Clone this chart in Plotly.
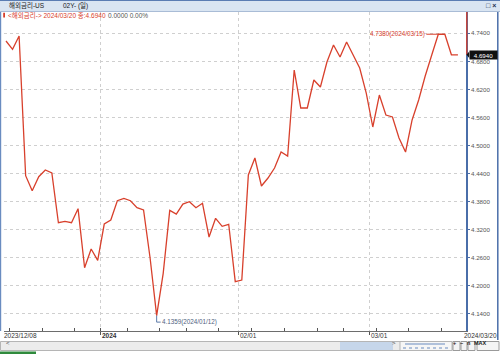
import plotly.graph_objects as go
from datetime import date

# ---------------- data ----------------
dates = [
    "2023-12-08", "2023-12-11", "2023-12-12", "2023-12-13", "2023-12-14", "2023-12-15",
    "2023-12-18", "2023-12-19", "2023-12-20", "2023-12-21", "2023-12-22",
    "2023-12-26", "2023-12-27", "2023-12-28", "2023-12-29",
    "2024-01-02", "2024-01-03", "2024-01-04", "2024-01-05",
    "2024-01-08", "2024-01-09", "2024-01-10", "2024-01-11", "2024-01-12",
    "2024-01-16", "2024-01-17", "2024-01-18", "2024-01-19",
    "2024-01-22", "2024-01-23", "2024-01-24", "2024-01-25", "2024-01-26",
    "2024-01-29", "2024-01-30", "2024-01-31",
    "2024-02-01", "2024-02-02",
    "2024-02-05", "2024-02-06", "2024-02-07", "2024-02-08", "2024-02-09",
    "2024-02-12", "2024-02-13", "2024-02-14", "2024-02-15", "2024-02-16",
    "2024-02-20", "2024-02-21", "2024-02-22", "2024-02-23",
    "2024-02-26", "2024-02-27", "2024-02-28", "2024-02-29",
    "2024-03-01",
    "2024-03-04", "2024-03-05", "2024-03-06", "2024-03-07", "2024-03-08",
    "2024-03-11", "2024-03-12", "2024-03-13", "2024-03-14", "2024-03-15",
    "2024-03-18", "2024-03-19", "2024-03-20",
]
values = [
    4.7235, 4.7058, 4.7342, 4.4353, 4.4032, 4.4332, 4.4475, 4.4411, 4.3347, 4.3377,
    4.3347, 4.3647, 4.2384, 4.2784, 4.2542,
    4.3319, 4.3405, 4.3818, 4.3869, 4.3818, 4.3668, 4.3619, 4.2592, 4.1359, 4.2264,
    4.3612, 4.3533, 4.3747, 4.3796, 4.3668, 4.3762, 4.3041, 4.3441, 4.3270, 4.3313,
    4.2085,
    4.2121, 4.4370, 4.4732, 4.4133, 4.4304, 4.4518, 4.4860, 4.4774, 4.6615, 4.5802,
    4.5802, 4.6401, 4.6251, 4.6786, 4.7150, 4.6893, 4.7214, 4.6936, 4.6657, 4.6122,
    4.5395, 4.6079, 4.5651, 4.5609, 4.5160, 4.4860, 4.5545, 4.5973, 4.6487, 4.6936,
    4.7380, 4.7380, 4.6940, 4.6940,
]
y_ticks = [4.14, 4.20, 4.26, 4.32, 4.38, 4.44, 4.50, 4.56, 4.62, 4.68, 4.74]
title_left = "해외금리-US"
title_mid = "02Y- (일)"
series_name = "<해외금리->"

# ---------------- geometry / style ----------------
W, H = 500, 354
FONT = "Liberation Sans, Arial, Noto Sans CJK KR"
RED = "#d8402c"
BLUE = "#4a6ea9"
GRID = "#cfcfcf"

def px(p):
    return p / W

def py(p):
    return 1 - p / H

PL, PR, PT, PB = 4, 466, 12, 331          # plot area in pixels
X0, DX = 6.0, 6.55                          # pixel of first point, pixel per point
YREF, YPPU = 33.3, 28.04 / 0.06             # pixel of 4.74, pixels per unit
x_range = [(PL - X0) / DX, (PR - X0) / DX]
y_range = [4.74 - (PB - YREF) / YPPU, 4.74 + (YREF - PT) / YPPU]

def idx_to_paper(i):
    return px(X0 + DX * i)

idx = list(range(len(dates)))
dobj = [date.fromisoformat(d) for d in dates]

# month / week boundaries
month_b, month_lbl = [], []
week_b = []
for i in range(1, len(dobj)):
    if dobj[i].month != dobj[i - 1].month:
        month_b.append(i - 0.5)
        if dobj[i].year != dobj[i - 1].year:
            month_lbl.append(("<b>%d</b>" % dobj[i].year))
        else:
            month_lbl.append("%02d/01" % dobj[i].month)
    if dobj[i].weekday() < dobj[i - 1].weekday():
        week_b.append(i - 0.5)

fig = go.Figure()
fig.add_trace(go.Scatter(
    x=idx, y=values, mode="lines",
    line=dict(color=RED, width=1.3),
    text=dates, hoverinfo="text+y", showlegend=False,
))

shapes = []
ann = []

# header bar
shapes.append(dict(type="rect", xref="paper", yref="paper", x0=0, x1=1,
                   y0=py(11.5), y1=1, fillcolor="#d9e5f2", line=dict(width=0), layer="below"))
shapes.append(dict(type="line", xref="paper", yref="paper", x0=0, x1=1,
                   y0=py(0.5), y1=py(0.5), line=dict(color="#5a7db3", width=1)))
shapes.append(dict(type="line", xref="paper", yref="paper", x0=0, x1=1,
                   y0=py(11.5), y1=py(11.5), line=dict(color="#a9bcd6", width=1)))
ann.append(dict(xref="paper", yref="paper", x=px(8), y=py(6), xanchor="left", yanchor="middle",
                text=title_left, showarrow=False, borderpad=0,
                font=dict(family=FONT, size=6.5, color="#1a1a1a")))
ann.append(dict(xref="paper", yref="paper", x=px(62), y=py(6), xanchor="left", yanchor="middle",
                text=title_mid, showarrow=False, borderpad=0,
                font=dict(family=FONT, size=6.5, color="#1a1a1a")))
ann.append(dict(xref="paper", yref="paper", x=px(497), y=py(6), xanchor="right", yanchor="middle",
                text="<b>□ ×</b>", showarrow=False, borderpad=0,
                font=dict(family=FONT, size=7, color="#203050")))

# legend row
last = values[-1]
chg = values[-1] - values[-2]
pct = chg / values[-2] * 100
d_last = dobj[-1].strftime("%Y/%m/%d")
shapes.append(dict(type="rect", xref="paper", yref="paper", x0=px(3.2), x1=px(5),
                   y0=py(17.5), y1=py(12.8), fillcolor=RED, line=dict(width=0)))
ann.append(dict(xref="paper", yref="paper", x=px(6.5), y=py(15.2), xanchor="left", yanchor="middle",
                text="%s %s 종:%.4f" % (series_name, d_last, last), showarrow=False, borderpad=0,
                font=dict(family=FONT, size=6.5, color=RED)))
ann.append(dict(xref="paper", yref="paper", x=px(107), y=py(15.2), xanchor="left", yanchor="middle",
                text="%.4f %.2f%%" % (chg, pct), showarrow=False, borderpad=0,
                font=dict(family=FONT, size=6.5, color="#555555")))

# left / right borders
shapes.append(dict(type="line", xref="paper", yref="paper", x0=px(0.6), x1=px(0.6),
                   y0=py(PB), y1=py(PT), line=dict(color="#6a8cc0", width=1.2)))
shapes.append(dict(type="line", xref="paper", yref="paper", x0=px(497.8), x1=px(497.8),
                   y0=py(340), y1=py(PT), line=dict(color=BLUE, width=1.5)))

# red part of the axis line (above the current value)
shapes.append(dict(type="line", xref="paper", yref="y", x0=px(PR + 0.8), x1=px(PR + 0.8),
                   y0=last, y1=y_range[1], line=dict(color=RED, width=1.3)))

# current value tag
ann.append(dict(xref="paper", yref="y", x=px(469), y=last, xanchor="left", yanchor="middle",
                text="%.4f" % last, showarrow=False, bgcolor="#111111", borderpad=0.5,
                width=26, align="center", font=dict(family=FONT, size=6.2, color="white")))
tri_h = 3.3 / YPPU
shapes.append(dict(type="path", xref="paper", yref="y",
                   path="M %f,%f L %f,%f L %f,%f Z" % (px(466.5), last, px(469.2), last + tri_h,
                                                        px(469.2), last - tri_h),
                   fillcolor="#111111", line=dict(width=0)))

# max annotation
i_max = max(idx, key=lambda i: values[i])
ann.append(dict(x=i_max, y=values[i_max], xref="x", yref="y",
                text="%.4f(%s)" % (values[i_max], dobj[i_max].strftime("%Y/%m/%d")),
                showarrow=True, arrowhead=0, arrowwidth=1, arrowcolor=RED, standoff=0,
                ax=-12, ay=0, xanchor="right", yanchor="middle", borderpad=0,
                font=dict(family=FONT, size=6.3, color=RED)))

# min annotation with L connector
i_min = min(idx, key=lambda i: values[i])
dy = 6.5 / YPPU
dxl = 4.0 / DX
vmin = values[i_min]
shapes.append(dict(type="path", xref="x", yref="y",
                   path="M %f,%f L %f,%f L %f,%f" % (i_min, vmin, i_min, vmin - dy, i_min + dxl, vmin - dy),
                   line=dict(color="#5b7aa8", width=1)))
ann.append(dict(x=i_min + dxl, y=vmin - dy, xref="x", yref="y", xanchor="left", yanchor="middle",
                text="%.4f(%s)" % (vmin, dobj[i_min].strftime("%Y/%m/%d")), showarrow=False,
                borderpad=0, font=dict(family=FONT, size=6.3, color="#4f6280")))

# x-axis labels
LBL_Y = py(335.5)
ann.append(dict(x=idx_to_paper(-0.5), y=LBL_Y, xref="paper", yref="paper", xanchor="left",
                yanchor="middle", text=dobj[0].strftime("%Y/%m/%d"), showarrow=False, borderpad=0,
                font=dict(family=FONT, size=6.5, color="#333333")))
for b, lbl in zip(month_b, month_lbl):
    ann.append(dict(x=idx_to_paper(b), y=LBL_Y, xref="paper", yref="paper", xanchor="left",
                    yanchor="middle", text=lbl, showarrow=False, borderpad=0,
                    font=dict(family=FONT, size=6.5, color="#333333")))
ann.append(dict(x=px(498), y=LBL_Y, xref="paper", yref="paper", xanchor="right", yanchor="middle",
                text=dobj[-1].strftime("%Y/%m/%d"), showarrow=False, borderpad=0,
                font=dict(family=FONT, size=6.5, color="#333333")))

# bottom scroll bar
shapes.append(dict(type="rect", xref="paper", yref="paper", x0=px(0.5), x1=px(452),
                   y0=py(350.5), y1=py(341.5), fillcolor="#ececec", line=dict(color="#b5b5b5", width=1)))
shapes.append(dict(type="rect", xref="paper", yref="paper", x0=px(340), x1=px(393),
                   y0=py(350), y1=py(342), fillcolor="#c6d6ea", line=dict(width=0)))
shapes.append(dict(type="rect", xref="paper", yref="paper", x0=px(400), x1=px(452),
                   y0=py(350.5), y1=py(341.5), fillcolor="#f6f6f6", line=dict(color="#b5b5b5", width=1)))
shapes.append(dict(type="line", xref="paper", yref="paper", x0=px(403), x1=px(449),
                   y0=py(348), y1=py(348), line=dict(color="#6a8cc0", width=1, dash="dot")))
shapes.append(dict(type="line", xref="paper", yref="paper", x0=px(405), x1=px(445),
                   y0=py(344), y1=py(344), line=dict(color="#6a8cc0", width=1)))
ann.append(dict(xref="paper", yref="paper", x=px(5), y=py(346.5), text="<", showarrow=False,
                borderpad=0, font=dict(family=FONT, size=6, color="#444444")))
ann.append(dict(xref="paper", yref="paper", x=px(396.5), y=py(346.5), text=">", showarrow=False,
                borderpad=0, font=dict(family=FONT, size=6, color="#444444")))
for x0, x1, t in [(453, 460, "+"), (461, 467, "−"), (468, 475, "n"), (477, 499, "MAX")]:
    shapes.append(dict(type="rect", xref="paper", yref="paper", x0=px(x0), x1=px(x1),
                       y0=py(350.5), y1=py(341.5), fillcolor="#f4f4f4", line=dict(color="#9a9a9a", width=1)))
    ann.append(dict(xref="paper", yref="paper", x=px((x0 + x1) / 2), y=py(346.5), text="<b>%s</b>" % t,
                    showarrow=False, borderpad=0, font=dict(family=FONT, size=5.5, color="#222222")))
shapes.append(dict(type="rect", xref="paper", yref="paper", x0=0, x1=px(36),
                   y0=0, y1=py(351.5), fillcolor="#2f8a3c", line=dict(width=0)))

fig.update_layout(
    width=W, height=H,
    margin=dict(l=0, r=0, t=0, b=0),
    paper_bgcolor="white", plot_bgcolor="white",
    showlegend=False,
    shapes=shapes, annotations=ann,
    xaxis=dict(
        domain=[px(PL), px(PR)], range=x_range,
        tickmode="array", tickvals=month_b, showticklabels=False,
        ticks="outside", ticklen=3, tickcolor="#555555",
        showgrid=True, gridcolor=GRID, griddash="dot", gridwidth=1,
        minor=dict(tickmode="array", tickvals=week_b, ticks="inside", ticklen=3,
                   tickcolor="#555555", showgrid=False),
        showline=True, linecolor="#6d6d6d", linewidth=1,
        zeroline=False, fixedrange=True,
    ),
    yaxis=dict(
        domain=[py(PB), py(PT)], range=y_range, side="right",
        tickmode="array", tickvals=y_ticks, tickformat=".4f",
        ticks="outside", ticklen=2, tickcolor=BLUE,
        tickfont=dict(family=FONT, size=6.2, color="#555555"),
        showgrid=True, gridcolor=GRID, griddash="dot", gridwidth=1,
        showline=True, linecolor=BLUE, linewidth=1.5,
        zeroline=False, fixedrange=True,
    ),
)

fig.write_html("out.html", config={"displayModeBar": False})
